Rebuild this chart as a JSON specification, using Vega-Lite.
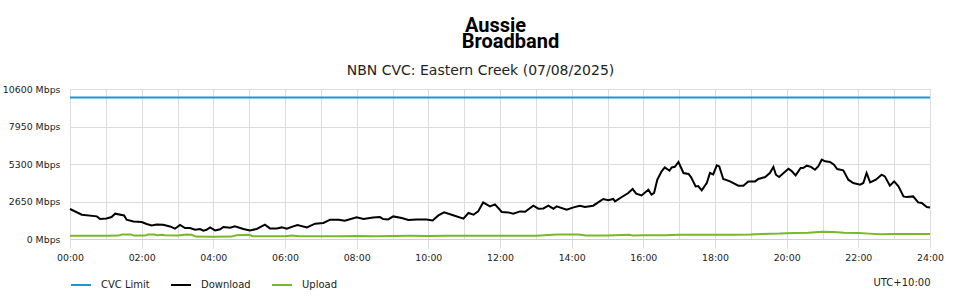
{
  "$schema": "https://vega.github.io/schema/vega-lite/v6.json",
  "autosize": {"type": "none"},
  "width": 860,
  "height": 150,
  "padding": {"left": 70, "top": 89, "right": 30, "bottom": 61},
  "background": "white",
  "config": {
    "font": "DejaVu Sans",
    "view": {"stroke": "#dcdcdc", "strokeWidth": 1}
  },
  "title": {
    "text": ["\u2800\u2800Aussie", "\u2800\u2800\u2800\u2800Broadband"],
    "subtitle": "NBN CVC: Eastern Creek (07/08/2025)",
    "anchor": "middle",
    "frame": "group",
    "dx": -19.5,
    "font": "Roboto",
    "fontWeight": "bold",
    "fontSize": 20,
    "lineHeight": 16,
    "color": "#000000",
    "subtitleFont": "DejaVu Sans",
    "subtitleFontSize": 14,
    "subtitleColor": "#222222",
    "subtitlePadding": 12,
    "offset": 6
  },
  "data": {
    "values": [
      {"h": 0, "v": 10000, "s": "CVC Limit"},
      {"h": 24, "v": 10000, "s": "CVC Limit"},
      {"h": 0, "v": 2120, "s": "Download"},
      {"h": 0.33, "v": 1717, "s": "Download"},
      {"h": 0.75, "v": 1600, "s": "Download"},
      {"h": 0.84, "v": 1413, "s": "Download"},
      {"h": 1.02, "v": 1456, "s": "Download"},
      {"h": 1.16, "v": 1555, "s": "Download"},
      {"h": 1.26, "v": 1788, "s": "Download"},
      {"h": 1.51, "v": 1668, "s": "Download"},
      {"h": 1.58, "v": 1364, "s": "Download"},
      {"h": 1.77, "v": 1244, "s": "Download"},
      {"h": 2.0, "v": 1201, "s": "Download"},
      {"h": 2.14, "v": 1060, "s": "Download"},
      {"h": 2.28, "v": 961, "s": "Download"},
      {"h": 2.42, "v": 1032, "s": "Download"},
      {"h": 2.6, "v": 1010, "s": "Download"},
      {"h": 2.79, "v": 890, "s": "Download"},
      {"h": 2.93, "v": 728, "s": "Download"},
      {"h": 3.07, "v": 989, "s": "Download"},
      {"h": 3.21, "v": 777, "s": "Download"},
      {"h": 3.35, "v": 770, "s": "Download"},
      {"h": 3.49, "v": 657, "s": "Download"},
      {"h": 3.63, "v": 700, "s": "Download"},
      {"h": 3.72, "v": 586, "s": "Download"},
      {"h": 3.81, "v": 650, "s": "Download"},
      {"h": 3.91, "v": 820, "s": "Download"},
      {"h": 4.05, "v": 608, "s": "Download"},
      {"h": 4.19, "v": 685, "s": "Download"},
      {"h": 4.28, "v": 848, "s": "Download"},
      {"h": 4.47, "v": 800, "s": "Download"},
      {"h": 4.6, "v": 890, "s": "Download"},
      {"h": 4.84, "v": 707, "s": "Download"},
      {"h": 5.02, "v": 608, "s": "Download"},
      {"h": 5.21, "v": 707, "s": "Download"},
      {"h": 5.44, "v": 1010, "s": "Download"},
      {"h": 5.58, "v": 749, "s": "Download"},
      {"h": 5.77, "v": 749, "s": "Download"},
      {"h": 5.91, "v": 820, "s": "Download"},
      {"h": 6.05, "v": 728, "s": "Download"},
      {"h": 6.23, "v": 890, "s": "Download"},
      {"h": 6.35, "v": 989, "s": "Download"},
      {"h": 6.61, "v": 820, "s": "Download"},
      {"h": 6.84, "v": 1081, "s": "Download"},
      {"h": 7.07, "v": 1131, "s": "Download"},
      {"h": 7.26, "v": 1364, "s": "Download"},
      {"h": 7.49, "v": 1364, "s": "Download"},
      {"h": 7.67, "v": 1293, "s": "Download"},
      {"h": 8.0, "v": 1527, "s": "Download"},
      {"h": 8.19, "v": 1413, "s": "Download"},
      {"h": 8.46, "v": 1527, "s": "Download"},
      {"h": 8.65, "v": 1550, "s": "Download"},
      {"h": 8.74, "v": 1413, "s": "Download"},
      {"h": 8.88, "v": 1385, "s": "Download"},
      {"h": 9.02, "v": 1597, "s": "Download"},
      {"h": 9.26, "v": 1484, "s": "Download"},
      {"h": 9.44, "v": 1343, "s": "Download"},
      {"h": 9.68, "v": 1385, "s": "Download"},
      {"h": 9.95, "v": 1385, "s": "Download"},
      {"h": 10.12, "v": 1314, "s": "Download"},
      {"h": 10.28, "v": 1668, "s": "Download"},
      {"h": 10.44, "v": 1880, "s": "Download"},
      {"h": 10.65, "v": 1717, "s": "Download"},
      {"h": 10.98, "v": 1435, "s": "Download"},
      {"h": 11.12, "v": 1837, "s": "Download"},
      {"h": 11.26, "v": 1717, "s": "Download"},
      {"h": 11.39, "v": 1950, "s": "Download"},
      {"h": 11.53, "v": 2587, "s": "Download"},
      {"h": 11.72, "v": 2304, "s": "Download"},
      {"h": 11.86, "v": 2445, "s": "Download"},
      {"h": 12.05, "v": 1908, "s": "Download"},
      {"h": 12.23, "v": 1880, "s": "Download"},
      {"h": 12.37, "v": 1788, "s": "Download"},
      {"h": 12.56, "v": 1950, "s": "Download"},
      {"h": 12.7, "v": 1930, "s": "Download"},
      {"h": 12.93, "v": 2353, "s": "Download"},
      {"h": 13.07, "v": 2141, "s": "Download"},
      {"h": 13.21, "v": 2160, "s": "Download"},
      {"h": 13.35, "v": 2353, "s": "Download"},
      {"h": 13.49, "v": 2141, "s": "Download"},
      {"h": 13.58, "v": 2304, "s": "Download"},
      {"h": 13.86, "v": 2070, "s": "Download"},
      {"h": 14.05, "v": 2233, "s": "Download"},
      {"h": 14.23, "v": 2353, "s": "Download"},
      {"h": 14.37, "v": 2260, "s": "Download"},
      {"h": 14.6, "v": 2353, "s": "Download"},
      {"h": 14.74, "v": 2587, "s": "Download"},
      {"h": 14.88, "v": 2827, "s": "Download"},
      {"h": 15.02, "v": 2733, "s": "Download"},
      {"h": 15.16, "v": 2827, "s": "Download"},
      {"h": 15.21, "v": 2657, "s": "Download"},
      {"h": 15.4, "v": 2968, "s": "Download"},
      {"h": 15.58, "v": 3251, "s": "Download"},
      {"h": 15.7, "v": 3534, "s": "Download"},
      {"h": 15.8, "v": 3202, "s": "Download"},
      {"h": 15.95, "v": 3081, "s": "Download"},
      {"h": 16.14, "v": 3484, "s": "Download"},
      {"h": 16.23, "v": 3131, "s": "Download"},
      {"h": 16.3, "v": 3250, "s": "Download"},
      {"h": 16.39, "v": 4190, "s": "Download"},
      {"h": 16.51, "v": 4777, "s": "Download"},
      {"h": 16.6, "v": 5060, "s": "Download"},
      {"h": 16.73, "v": 4827, "s": "Download"},
      {"h": 16.79, "v": 5060, "s": "Download"},
      {"h": 16.88, "v": 5100, "s": "Download"},
      {"h": 16.98, "v": 5441, "s": "Download"},
      {"h": 17.12, "v": 4664, "s": "Download"},
      {"h": 17.26, "v": 4600, "s": "Download"},
      {"h": 17.33, "v": 4381, "s": "Download"},
      {"h": 17.46, "v": 3717, "s": "Download"},
      {"h": 17.53, "v": 3740, "s": "Download"},
      {"h": 17.63, "v": 3434, "s": "Download"},
      {"h": 17.77, "v": 3957, "s": "Download"},
      {"h": 17.86, "v": 4664, "s": "Download"},
      {"h": 17.95, "v": 4560, "s": "Download"},
      {"h": 18.05, "v": 5201, "s": "Download"},
      {"h": 18.12, "v": 5131, "s": "Download"},
      {"h": 18.23, "v": 4240, "s": "Download"},
      {"h": 18.42, "v": 4071, "s": "Download"},
      {"h": 18.65, "v": 3767, "s": "Download"},
      {"h": 18.79, "v": 3767, "s": "Download"},
      {"h": 18.93, "v": 4071, "s": "Download"},
      {"h": 19.12, "v": 4071, "s": "Download"},
      {"h": 19.21, "v": 4240, "s": "Download"},
      {"h": 19.4, "v": 4381, "s": "Download"},
      {"h": 19.53, "v": 4664, "s": "Download"},
      {"h": 19.63, "v": 5088, "s": "Download"},
      {"h": 19.7, "v": 4544, "s": "Download"},
      {"h": 19.79, "v": 4381, "s": "Download"},
      {"h": 19.93, "v": 4707, "s": "Download"},
      {"h": 20.05, "v": 4968, "s": "Download"},
      {"h": 20.14, "v": 4800, "s": "Download"},
      {"h": 20.25, "v": 4495, "s": "Download"},
      {"h": 20.39, "v": 5017, "s": "Download"},
      {"h": 20.46, "v": 5017, "s": "Download"},
      {"h": 20.56, "v": 5180, "s": "Download"},
      {"h": 20.68, "v": 5100, "s": "Download"},
      {"h": 20.79, "v": 4898, "s": "Download"},
      {"h": 20.88, "v": 5131, "s": "Download"},
      {"h": 20.98, "v": 5604, "s": "Download"},
      {"h": 21.07, "v": 5487, "s": "Download"},
      {"h": 21.21, "v": 5440, "s": "Download"},
      {"h": 21.32, "v": 5251, "s": "Download"},
      {"h": 21.41, "v": 4947, "s": "Download"},
      {"h": 21.58, "v": 4848, "s": "Download"},
      {"h": 21.72, "v": 4190, "s": "Download"},
      {"h": 21.86, "v": 3957, "s": "Download"},
      {"h": 22.05, "v": 3840, "s": "Download"},
      {"h": 22.14, "v": 3957, "s": "Download"},
      {"h": 22.23, "v": 4664, "s": "Download"},
      {"h": 22.33, "v": 4000, "s": "Download"},
      {"h": 22.49, "v": 4190, "s": "Download"},
      {"h": 22.65, "v": 4544, "s": "Download"},
      {"h": 22.74, "v": 4424, "s": "Download"},
      {"h": 22.88, "v": 3767, "s": "Download"},
      {"h": 23.0, "v": 4071, "s": "Download"},
      {"h": 23.12, "v": 3717, "s": "Download"},
      {"h": 23.26, "v": 3010, "s": "Download"},
      {"h": 23.35, "v": 2960, "s": "Download"},
      {"h": 23.53, "v": 3010, "s": "Download"},
      {"h": 23.67, "v": 2587, "s": "Download"},
      {"h": 23.77, "v": 2540, "s": "Download"},
      {"h": 23.91, "v": 2261, "s": "Download"},
      {"h": 24.0, "v": 2233, "s": "Download"},
      {"h": 0, "v": 233, "s": "Upload"},
      {"h": 0.5, "v": 235, "s": "Upload"},
      {"h": 1.0, "v": 233, "s": "Upload"},
      {"h": 1.35, "v": 240, "s": "Upload"},
      {"h": 1.45, "v": 320, "s": "Upload"},
      {"h": 1.7, "v": 325, "s": "Upload"},
      {"h": 1.78, "v": 240, "s": "Upload"},
      {"h": 2.1, "v": 240, "s": "Upload"},
      {"h": 2.18, "v": 320, "s": "Upload"},
      {"h": 2.35, "v": 315, "s": "Upload"},
      {"h": 2.45, "v": 270, "s": "Upload"},
      {"h": 2.55, "v": 300, "s": "Upload"},
      {"h": 2.65, "v": 260, "s": "Upload"},
      {"h": 3.0, "v": 255, "s": "Upload"},
      {"h": 3.25, "v": 320, "s": "Upload"},
      {"h": 3.4, "v": 300, "s": "Upload"},
      {"h": 3.5, "v": 170, "s": "Upload"},
      {"h": 4.0, "v": 165, "s": "Upload"},
      {"h": 4.5, "v": 170, "s": "Upload"},
      {"h": 4.65, "v": 270, "s": "Upload"},
      {"h": 4.8, "v": 280, "s": "Upload"},
      {"h": 5.0, "v": 300, "s": "Upload"},
      {"h": 5.1, "v": 200, "s": "Upload"},
      {"h": 5.5, "v": 190, "s": "Upload"},
      {"h": 6.0, "v": 190, "s": "Upload"},
      {"h": 6.2, "v": 250, "s": "Upload"},
      {"h": 6.4, "v": 190, "s": "Upload"},
      {"h": 7.0, "v": 190, "s": "Upload"},
      {"h": 7.5, "v": 195, "s": "Upload"},
      {"h": 8.0, "v": 220, "s": "Upload"},
      {"h": 8.5, "v": 200, "s": "Upload"},
      {"h": 9.0, "v": 210, "s": "Upload"},
      {"h": 9.5, "v": 225, "s": "Upload"},
      {"h": 10.0, "v": 220, "s": "Upload"},
      {"h": 10.5, "v": 230, "s": "Upload"},
      {"h": 11.0, "v": 225, "s": "Upload"},
      {"h": 12.0, "v": 230, "s": "Upload"},
      {"h": 13.0, "v": 235, "s": "Upload"},
      {"h": 13.6, "v": 320, "s": "Upload"},
      {"h": 14.2, "v": 320, "s": "Upload"},
      {"h": 14.4, "v": 240, "s": "Upload"},
      {"h": 15.0, "v": 240, "s": "Upload"},
      {"h": 15.6, "v": 300, "s": "Upload"},
      {"h": 15.7, "v": 250, "s": "Upload"},
      {"h": 16.0, "v": 260, "s": "Upload"},
      {"h": 16.6, "v": 270, "s": "Upload"},
      {"h": 17.0, "v": 300, "s": "Upload"},
      {"h": 18.0, "v": 305, "s": "Upload"},
      {"h": 18.5, "v": 300, "s": "Upload"},
      {"h": 19.0, "v": 320, "s": "Upload"},
      {"h": 19.3, "v": 360, "s": "Upload"},
      {"h": 19.8, "v": 380, "s": "Upload"},
      {"h": 20.2, "v": 420, "s": "Upload"},
      {"h": 20.6, "v": 440, "s": "Upload"},
      {"h": 21.0, "v": 520, "s": "Upload"},
      {"h": 21.3, "v": 500, "s": "Upload"},
      {"h": 21.6, "v": 440, "s": "Upload"},
      {"h": 22.0, "v": 430, "s": "Upload"},
      {"h": 22.3, "v": 380, "s": "Upload"},
      {"h": 22.6, "v": 340, "s": "Upload"},
      {"h": 23.0, "v": 360, "s": "Upload"},
      {"h": 23.5, "v": 350, "s": "Upload"},
      {"h": 24.0, "v": 350, "s": "Upload"}
    ]
  },
  "mark": {"type": "line", "strokeWidth": 2, "interpolate": "linear"},
  "encoding": {
    "x": {
      "field": "h",
      "type": "quantitative",
      "scale": {"domain": [0, 24], "nice": false, "zero": false},
      "axis": {
        "values": [0,1,2,3,4,5,6,7,8,9,10,11,12,13,14,15,16,17,18,19,20,21,22,23,24],
        "labelExpr": "datum.value % 2 === 0 ? ((datum.value < 10 ? '0' : '') + datum.value + ':00') : ''",
        "labelFlush": false,
        "labelBound": false,
        "grid": true,
        "gridColor": "#dcdcdc",
        "tickColor": "#dcdcdc",
        "tickOpacity": {"expr": "datum.value % 2 === 0 ? 1 : 0"},
        "tickSize": 9,
        "domainColor": "#d0d0d0",
        "labelFont": "DejaVu Sans",
        "labelFontSize": 9.4,
        "labelColor": "#222222",
        "labelPadding": 5,
        "labelOverlap": false,
        "title": "UTC+10:00",
        "titleAnchor": "end",
        "titleFont": "DejaVu Sans",
        "titleFontSize": 10,
        "titleFontWeight": "normal",
        "titleColor": "#222222",
        "titlePadding": 16
      }
    },
    "y": {
      "field": "v",
      "type": "quantitative",
      "scale": {"domain": [0, 10600], "nice": false},
      "axis": {
        "values": [0, 2650, 5300, 7950, 10600],
        "labelExpr": "datum.value + ' Mbps'",
        "labelFlush": false,
        "grid": true,
        "gridColor": "#dcdcdc",
        "domain": false,
        "ticks": false,
        "labelFont": "DejaVu Sans",
        "labelFontSize": 9.4,
        "labelColor": "#222222",
        "labelPadding": 10,
        "title": null
      }
    },
    "color": {
      "field": "s",
      "type": "nominal",
      "scale": {"domain": ["CVC Limit", "Download", "Upload"], "range": ["#1a97d6", "#000000", "#78b829"]},
      "legend": {
        "title": null,
        "orient": "none",
        "legendX": 0,
        "legendY": 185,
        "direction": "horizontal",
        "symbolType": "stroke",
        "symbolSize": 400,
        "symbolStrokeWidth": 2,
        "labelOffset": 9,
        "columnPadding": 17,
        "labelFont": "DejaVu Sans",
        "labelFontSize": 10,
        "labelColor": "#222222"
      }
    }
  }
}
